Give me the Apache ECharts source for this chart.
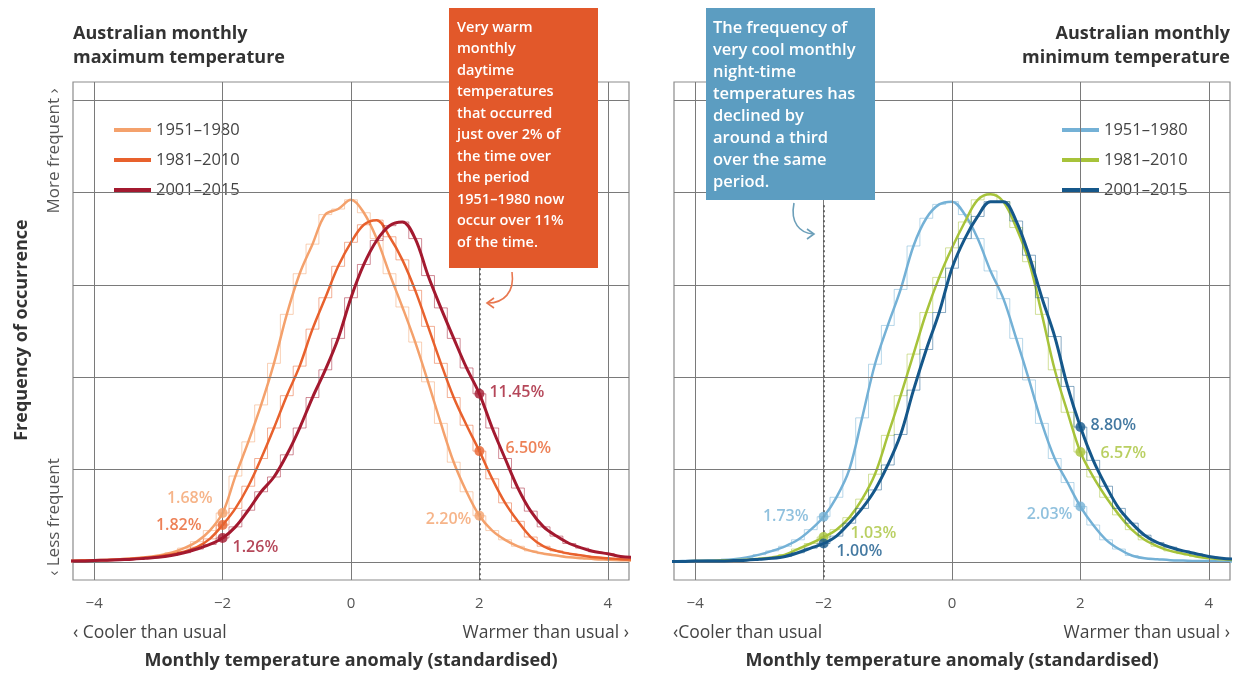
<!DOCTYPE html>
<html><head><meta charset="utf-8">
<script src="https://cdn.jsdelivr.net/npm/echarts@6/dist/echarts.min.js"></script>
<style>html,body{margin:0;padding:0;background:#fff}#c{width:1235px;height:675px}</style>
</head><body><div id="c"></div>
<script>
// ---------- DATA ----------
const xs = [-4.4,-4.2,-4.0,-3.8,-3.6,-3.4,-3.2,-3.0,-2.8,-2.6,-2.4,-2.2,-2.0,
            -1.8,-1.6,-1.4,-1.2,-1.0,-0.8,-0.6,-0.4,-0.2,0.0,
            0.2,0.4,0.6,0.8,1.0,1.2,1.4,1.6,1.8,2.0,
            2.2,2.4,2.6,2.8,3.0,3.2,3.4,3.6,3.8,4.0,4.2,4.4];
const xTicks = [-4,-2,0,2,4];
const yGrid = [0,1,2,3,4,5];
const periods = ['1951–1980','1981–2010','2001–2015'];

// Australian monthly maximum temperature (relative frequency)
const max1951_1980 = [0.01,0.015,0.02,0.025,0.03,0.04,0.05,0.07,0.10,0.15,0.22,0.34,0.53,
  0.93,1.30,1.70,2.15,2.68,3.12,3.44,3.76,3.82,3.92,
  3.78,3.50,3.12,2.76,2.38,1.95,1.50,1.08,0.76,0.50,
  0.34,0.24,0.17,0.12,0.09,0.07,0.05,0.04,0.03,0.025,0.02,0.015];
const max1981_2010 = [0.01,0.015,0.02,0.02,0.03,0.035,0.045,0.06,0.08,0.11,0.16,0.25,0.40,
  0.58,0.82,1.12,1.45,1.80,2.12,2.52,2.86,3.20,3.46,
  3.65,3.70,3.52,3.27,2.94,2.55,2.15,1.78,1.48,1.20,
  0.90,0.64,0.44,0.27,0.17,0.12,0.09,0.07,0.05,0.04,0.03,0.025];
const max2001_2015 = [0.01,0.01,0.015,0.02,0.025,0.03,0.04,0.05,0.07,0.10,0.14,0.19,0.26,
  0.38,0.56,0.76,0.92,1.16,1.45,1.78,2.08,2.42,2.86,
  3.22,3.48,3.64,3.68,3.50,3.10,2.75,2.42,2.10,1.82,
  1.45,1.12,0.80,0.55,0.38,0.28,0.20,0.15,0.11,0.09,0.06,0.05];

// Australian monthly minimum temperature (relative frequency)
const min1951_1980 = [0.005,0.01,0.01,0.015,0.02,0.03,0.05,0.08,0.12,0.17,0.24,0.35,0.49,
  0.70,1.00,1.56,2.14,2.56,2.95,3.42,3.72,3.87,3.90,
  3.76,3.50,3.15,2.85,2.42,1.97,1.50,1.12,0.86,0.60,
  0.40,0.24,0.14,0.07,0.04,0.03,0.02,0.015,0.01,0.01,0.005,0.005];
const min1981_2010 = [0.005,0.005,0.01,0.01,0.015,0.02,0.025,0.035,0.05,0.08,0.14,0.20,0.27,
  0.35,0.48,0.68,0.95,1.37,1.80,2.25,2.70,3.08,3.40,
  3.68,3.92,3.98,3.90,3.62,3.25,2.68,2.08,1.62,1.19,
  0.92,0.70,0.51,0.35,0.24,0.17,0.12,0.09,0.06,0.04,0.03,0.02];
const min2001_2015 = [0.005,0.005,0.01,0.01,0.01,0.015,0.02,0.03,0.04,0.06,0.10,0.15,0.20,
  0.28,0.42,0.58,0.78,1.05,1.38,1.86,2.30,2.70,3.18,
  3.50,3.74,3.90,3.90,3.69,3.32,2.86,2.44,1.90,1.46,
  1.10,0.82,0.58,0.42,0.29,0.21,0.16,0.12,0.09,0.06,0.04,0.03];

// highlighted points (x position, period index, label)
const maxMarkX = [-2,-2,-2,2,2,2];
const maxMarkPeriod = [0,1,2,2,1,0];
const maxMarkText = ['1.68%','1.82%','1.26%','11.45%','6.50%','2.20%'];
const minMarkX = [-2,-2,-2,2,2,2];
const minMarkPeriod = [0,1,2,2,1,0];
const minMarkText = ['1.73%','1.03%','1.00%','8.80%','6.57%','2.03%'];

// ---------- STYLE ----------
const FONT = "'Open Sans', 'Noto Sans', sans-serif";
const maxColors = ['#f4a16c','#e8612d','#a3192f'];
const minColors = ['#74b1d6','#a7c33a','#15578a'];
const maxLabelStyle = [
  {position:'left', offset:[0,-15]}, {position:'left', offset:[-11,0]}, {position:'right', offset:[0,9]},
  {position:'right', offset:[0,-1]}, {position:'right', offset:[16,-3]}, {position:'left', offset:[2,4]}];
const minLabelStyle = [
  {position:'left', offset:[-5,0]}, {position:'right', offset:[17,-4]}, {position:'right', offset:[3,8]},
  {position:'right', offset:[0,-2]}, {position:'right', offset:[10,1]}, {position:'left', offset:[2,8]}];

function pairs(arr){ return xs.map((x,i)=>[x,arr[i]]); }

function panelSeries(gi, prefix, arrs, colors, mX, mP, mT, mStyle, dashSpec){
  const out = [];
  out.push({
    type:'line', xAxisIndex:gi, yAxisIndex:gi, data:[], silent:true, z:1,
    markLine:{silent:true, symbol:['none','none'], label:{show:false}, animation:false,
      emphasis:{disabled:true},
      lineStyle:{color:'#7a7a7a', width:1, type:'solid'},
      data:[...xTicks.map(v=>({xAxis:v})), ...yGrid.map(v=>({yAxis:v})),
        [{coord:dashSpec[0], lineStyle:{color:'#555', width:1.6, type:[2,3]}}, {coord:dashSpec[1]}]]}
  });
  arrs.forEach((arr,k)=>{
    out.push({type:'line', name:prefix+periods[k]+'_h', xAxisIndex:gi, yAxisIndex:gi,
      data:pairs(arr), step:'middle', symbol:'none', silent:true, z:2+k,
      lineStyle:{color:colors[k], width:1, opacity:0.5}, itemStyle:{color:colors[k]}});
    out.push({type:'line', name:prefix+periods[k], xAxisIndex:gi, yAxisIndex:gi,
      data:pairs(arr), smooth:0.35, symbol:'none', silent:true, z:3+k,
      lineStyle:{color:colors[k], width:k===2?3:2.5}, itemStyle:{color:colors[k]}});
  });
  out.push({type:'scatter', xAxisIndex:gi, yAxisIndex:gi, symbolSize:10, z:10, silent:true,
    data:mX.map((x,i)=>{
      const p = mP[i], c = colors[p];
      return {value:[x, arrs[p][xs.indexOf(x)]], itemStyle:{color:c},
        label:{show:true, formatter:mT[i], position:mStyle[i].position, offset:mStyle[i].offset,
          color:c, fontSize:16, fontWeight:600, fontFamily:FONT}};
    })});
  return out;
}

const series = [
  ...panelSeries(0,'Max ',[max1951_1980,max1981_2010,max2001_2015],maxColors,maxMarkX,maxMarkPeriod,maxMarkText,maxLabelStyle,[[2,3.18],[2,-0.195]]),
  ...panelSeries(1,'Min ',[min1951_1980,min1981_2010,min2001_2015],minColors,minMarkX,minMarkPeriod,minMarkText,minLabelStyle,[[-2,3.86],[-2,-0.195]])
];

function xAxis(gi){
  return {type:'value', gridIndex:gi, min:-4.33, max:4.33,
    axisLine:{show:false}, axisTick:{show:false}, splitLine:{show:false},
    axisLabel:{customValues:xTicks, formatter:v=>String(v).replace('-','−'), fontSize:15, color:'#555', margin:16, fontFamily:FONT},
    name:'Monthly temperature anomaly (standardised)', nameLocation:'middle', nameGap:72,
    nameTextStyle:{fontSize:18, fontWeight:'bold', color:'#333', fontFamily:FONT}};
}
function yAxis(gi){ return {type:'value', gridIndex:gi, min:-0.195, max:5.195, show:false}; }

function legend(prefix, left){
  return {left:left, top:116, orient:'vertical', itemWidth:37, itemHeight:10, itemGap:12,
    lineStyle:{width:4}, itemStyle:{opacity:0}, selectedMode:false,
    data:periods.map(p=>prefix+p), formatter:n=>n.replace(prefix,''),
    textStyle:{fontSize:16.5, color:'#444', lineHeight:18, fontFamily:FONT}};
}

function txt(x,y,text,opt){
  return {type:'text', x:x, y:y, z:100, silent:true,
    style:Object.assign({text:text, fontFamily:FONT, fontSize:15, fill:'#444'}, opt||{})};
}
function rtxt(x,y,text,opt){
  return {type:'text', x:x, y:y, rotation:Math.PI/2, z:100, silent:true,
    style:Object.assign({text:text, fontFamily:FONT, fontSize:17, fill:'#555', textAlign:'center', textVerticalAlign:'middle'}, opt||{})};
}

const graphic = [
  txt(73,22,'Australian monthly\nmaximum temperature',{fontSize:18, fontWeight:'bold', fill:'#333', lineHeight:24}),
  txt(1230,22,'Australian monthly\nminimum temperature',{fontSize:18, fontWeight:'bold', fill:'#333', lineHeight:24, textAlign:'right'}),
  rtxt(22,330,'Frequency of occurrence',{fontSize:18, fontWeight:'bold', fill:'#333'}),
  rtxt(54,151,'More frequent ›',{}),
  rtxt(54,517,'‹ Less frequent',{}),
  txt(73,633,'‹ Cooler than usual',{textVerticalAlign:'middle', fontSize:17.5}),
  txt(629,633,'Warmer than usual ›',{textVerticalAlign:'middle', textAlign:'right', fontSize:17.5}),
  txt(673,633,'‹Cooler than usual',{textVerticalAlign:'middle', fontSize:17.5}),
  txt(1230,633,'Warmer than usual ›',{textVerticalAlign:'middle', textAlign:'right', fontSize:17.5}),
  {type:'rect', z:99, silent:true, shape:{x:449,y:8,width:149,height:260}, style:{fill:'#e2582a'}},
  txt(457,17,'Very warm\nmonthly\ndaytime\ntemperatures\nthat occurred\njust over 2% of\nthe time over\nthe period\n1951–1980 now\noccur over 11%\nof the time.',
      {fill:'#fff', fontSize:14.5, fontWeight:600, lineHeight:21.5}),
  {type:'rect', z:99, silent:true, shape:{x:706,y:8,width:169,height:192}, style:{fill:'#5c9dc1'}},
  txt(713,17,'The frequency of\nvery cool monthly\nnight-time\ntemperatures has\ndeclined by\naround a third\nover the same\nperiod.',
      {fill:'#fff', fontSize:16.5, fontWeight:600, lineHeight:22}),
  {type:'bezierCurve', z:100, silent:true, shape:{x1:512,y1:272,cpx1:515,cpy1:293,cpx2:503,cpy2:303,x2:488,y2:303},
    style:{stroke:'#e8774f', lineWidth:1.6, fill:null}},
  {type:'polyline', z:100, silent:true, shape:{points:[[494,298],[487,303],[494,308]]}, style:{stroke:'#e8774f', lineWidth:1.6, fill:null}},
  {type:'bezierCurve', z:100, silent:true, shape:{x1:794,y1:203,cpx1:790,cpy1:223,cpx2:800,cpy2:233,x2:813,y2:234},
    style:{stroke:'#6c9fb9', lineWidth:1.6, fill:null}},
  {type:'polyline', z:100, silent:true, shape:{points:[[807,229],[814,234],[807,239]]}, style:{stroke:'#6c9fb9', lineWidth:1.6, fill:null}}
];

const option = {
  animation:false,
  backgroundColor:'#fff',
  textStyle:{fontFamily:FONT},
  grid:[
    {left:73, top:82, width:556, height:498, show:true, borderColor:'#8c8c8c', borderWidth:1.2},
    {left:674, top:82, width:556, height:498, show:true, borderColor:'#8c8c8c', borderWidth:1.2}
  ],
  xAxis:[xAxis(0), xAxis(1)],
  yAxis:[yAxis(0), yAxis(1)],
  legend:[legend('Max ',107), legend('Min ',1055)],
  series:series,
  graphic:graphic
};
const chart = echarts.init(document.getElementById('c'), null, {renderer:'canvas'});
chart.setOption(option);
</script></body></html>
